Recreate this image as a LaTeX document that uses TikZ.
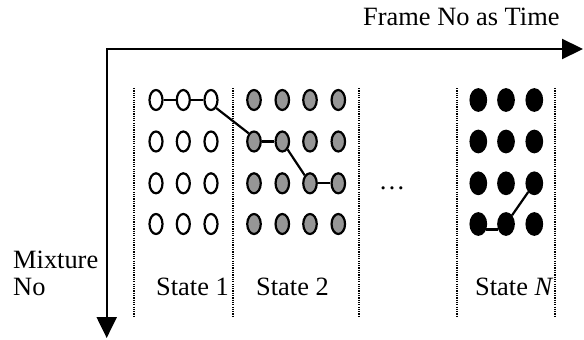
\documentclass[tikz,border=0pt]{standalone}
\usepackage{fontspec}
\setmainfont{Liberation Serif}
\usetikzlibrary{shapes.geometric,arrows.meta}
\definecolor{mixgray}{RGB}{150,150,150}
\begin{document}
\begin{tikzpicture}[x=1pt,y=-1pt,
  mix/.style={ellipse,draw=black,line width=2.2pt,inner sep=0pt},
  wdot/.style={mix,fill=white,minimum width=13pt,minimum height=20pt},
  gdot/.style={mix,fill=mixgray,minimum width=13.5pt,minimum height=20pt},
  bdot/.style={mix,fill=black,minimum width=15.5pt,minimum height=21.5pt},
  link/.style={line width=2.2pt},
  sep/.style={line width=2pt,dash pattern=on 1.2pt off 1.1pt},
  axes/.style={line width=2.2pt,{Triangle[length=21pt,width=20pt]}-{Triangle[length=21pt,width=20pt]}},
  lbl/.style={font=\fontsize{26.4}{28}\selectfont,inner sep=0pt}
]
\useasboundingbox (0,0) rectangle (584,340);

% axes: frame number to the right, mixture number downwards
\coordinate (o) at (106.7,49);
\coordinate (xend) at (583,49);
\coordinate (yend) at (106.7,338);
\draw[axes] (yend) -- (o) -- (xend);
\node[lbl,anchor=base west] (tlabel) at (363,25) {Frame No as Time};
\node[lbl,anchor=base west] (mlabel1) at (13,268) {Mixture};
\node[lbl,anchor=base west] (mlabel2) at (13,295) {No};

% state separators
\foreach \i/\x in {1/134.3,2/232.5,3/359,4/456.7,5/555}{
  \coordinate (st\i) at (\x,88);
  \coordinate (sb\i) at (\x,317);
  \draw[sep] (st\i) -- (sb\i);
}

% mixtures of each state
\foreach \r/\y in {1/100,2/141.5,3/183.3,4/224}{
  \foreach \c/\x in {1/156,2/183.3,3/211}
    \node[wdot] (w\r\c) at (\x,\y) {};
  \foreach \c/\x in {1/254,2/282.3,3/310,4/338.3}
    \node[gdot] (g\r\c) at (\x,\y) {};
  \foreach \c/\x in {1/478.3,2/506,3/534.3}
    \node[bdot] (b\r\c) at (\x,\y) {};
}

% best mixture path through the frames
\draw[link] (w11) -- (w12);
\draw[link] (w12) -- (w13);
\draw[link] (w13.-57) -- (g21.123);
\draw[link] (g21) -- (g22);
\draw[link] (g22) -- (g33);
\draw[link] (g33) -- (g34);
\draw[link] (b33) -- (b42);
\draw[link] (b41.-35) -- (b42.215);

\node[lbl,anchor=base] (dots) at (392,189) {\dots};

% state names
\node[lbl,anchor=base west] (s1) at (156,295) {State 1};
\node[lbl,anchor=base west] (s2) at (256,295) {State 2};
\node[lbl,anchor=base west] (sn) at (475,295) {State \textit{N}};
\end{tikzpicture}
\end{document}
